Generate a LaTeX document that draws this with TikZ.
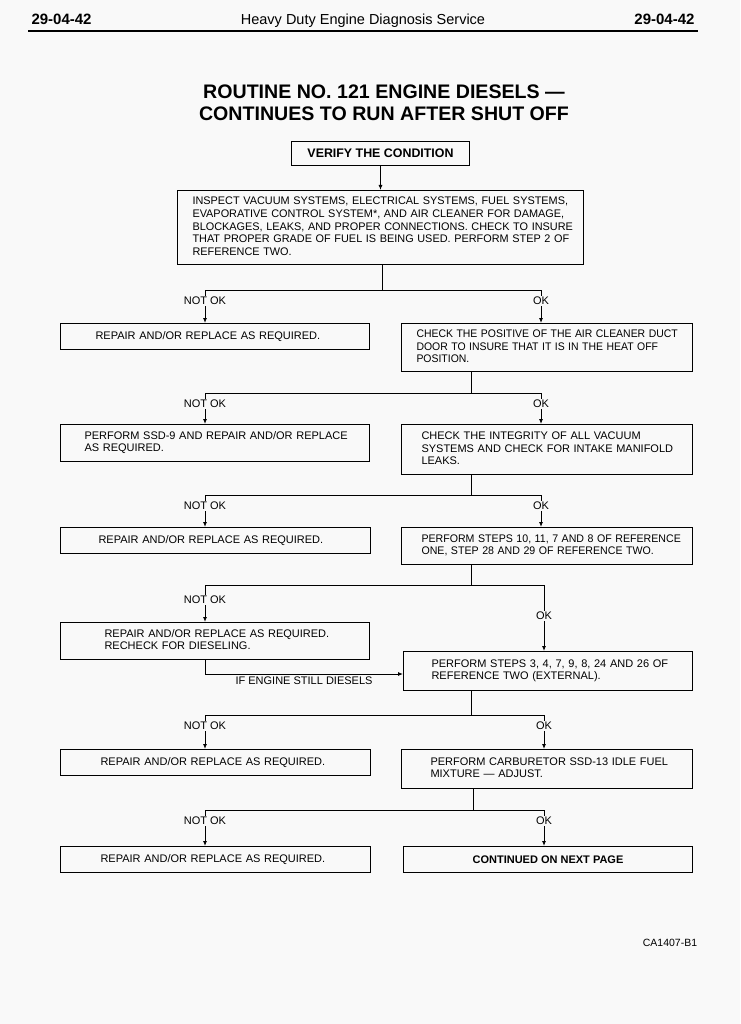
\documentclass[tikz,border=0pt]{standalone}
\usepackage{fontspec}
\usepackage{graphicx}
\setmainfont{Liberation Sans}
\usetikzlibrary{arrows.meta}

\definecolor{paper}{gray}{0.975}
% lines of a box, kept on one line each
\newcommand{\boxlines}[1]{\begin{tabular}{@{}l@{}}#1\end{tabular}}

\begin{document}
\begin{tikzpicture}[
    x=1pt, % one unit is one pixel of the page
    y=-1pt, % y counts downwards, as on the page
    every node/.style={font=\fontsize{11}{12.8}\selectfont},
    box/.style={draw, line width=1pt, anchor=north west, inner ysep=0pt},
    lbox/.style={box, align=left},
    cbox/.style={box, align=center},
    tag/.style={fill=paper, inner sep=1pt},
    link/.style={line width=0.9pt},
    arr/.style={link, -{Latex[length=5pt,width=4pt]}}
    ]

% --- Page ---
\fill[paper] (0,0) rectangle (740,1024);
\useasboundingbox (0,0) rectangle (740,1024);

% --- Header ---
\node[anchor=base west, font=\bfseries\fontsize{15}{15}\selectfont] (pageL) at (28,25) {29-04-42};
\node[anchor=base, font=\fontsize{14.5}{15}\selectfont] (head) at (363,25) {Heavy Duty Engine Diagnosis Service};
\node[anchor=base east, font=\bfseries\fontsize{15}{15}\selectfont] (pageR) at (698,25) {29-04-42};
\draw[line width=1.2pt] (pageL.base west |- 0,31) -- (pageR.base east |- 0,31);

% --- Title ---
\node[align=center, font=\bfseries\fontsize{19.6}{22}\selectfont] (title) at (384,103)
    {ROUTINE NO. 121 ENGINE DIESELS ---\\CONTINUES TO RUN AFTER SHUT OFF};

% --- Boxes ---
\node[cbox, minimum width=178, minimum height=24, font=\bfseries\fontsize{12.4}{13}\selectfont] (verify) at (291,141) {VERIFY THE CONDITION};
\node[lbox, minimum width=406, minimum height=74, inner xsep=15, text width=376] (insp) at (177,190)
    {\scalebox{0.99}[1]{\boxlines{INSPECT VACUUM SYSTEMS, ELECTRICAL SYSTEMS, FUEL SYSTEMS,\\
     EVAPORATIVE CONTROL SYSTEM*, AND AIR CLEANER FOR DAMAGE,\\
     BLOCKAGES, LEAKS, AND PROPER CONNECTIONS. CHECK TO INSURE\\
     THAT PROPER GRADE OF FUEL IS BEING USED. PERFORM STEP 2 OF\\
     REFERENCE TWO.}}};

% row 1
\node[lbox, minimum width=309, minimum height=26, inner xsep=35, text width=239] (ra) at (60,323) {REPAIR AND/OR REPLACE AS REQUIRED.};
\node[lbox, minimum width=291, minimum height=48, inner xsep=15, text width=261] (ca) at (401,323)
    {\scalebox{0.95}[1]{\boxlines{CHECK THE POSITIVE OF THE AIR CLEANER DUCT\\DOOR TO INSURE THAT IT IS IN THE HEAT OFF\\POSITION.}}};
% row 2
\node[lbox, minimum width=309, minimum height=37, inner xsep=24, text width=261] (rb) at (60,424)
    {\boxlines{PERFORM SSD-9 AND REPAIR AND/OR REPLACE\\AS REQUIRED.}};
\node[lbox, minimum width=291, minimum height=50, inner xsep=20, text width=251] (cb) at (401,424)
    {\boxlines{CHECK THE INTEGRITY OF ALL VACUUM\\SYSTEMS AND CHECK FOR INTAKE MANIFOLD\\LEAKS.}};
% row 3
\node[lbox, minimum width=310, minimum height=26, inner xsep=38, text width=234] (rc) at (60,527) {REPAIR AND/OR REPLACE AS REQUIRED.};
\node[lbox, minimum width=291, minimum height=37, inner xsep=20, text width=251] (cc) at (401,527)
    {\scalebox{0.965}[1]{\boxlines{PERFORM STEPS 10, 11, 7 AND 8 OF REFERENCE\\ONE, STEP 28 AND 29 OF REFERENCE TWO.}}};
% row 4
\node[lbox, minimum width=309, minimum height=37, inner xsep=44, text width=221] (rd) at (60,622)
    {\boxlines{REPAIR AND/OR REPLACE AS REQUIRED.\\RECHECK FOR DIESELING.}};
\node[lbox, minimum width=289, minimum height=39, inner xsep=28, text width=233] (cd) at (403,651)
    {\boxlines{PERFORM STEPS 3, 4, 7, 9, 8, 24 AND 26 OF\\REFERENCE TWO (EXTERNAL).}};
% row 5
\node[lbox, minimum width=310, minimum height=26, inner xsep=40, text width=230] (re) at (60,749) {REPAIR AND/OR REPLACE AS REQUIRED.};
\node[lbox, minimum width=291, minimum height=39, inner xsep=29, text width=233] (ce) at (401,749)
    {\boxlines{PERFORM CARBURETOR SSD-13 IDLE FUEL\\MIXTURE --- ADJUST.}};
% row 6
\node[lbox, minimum width=310, minimum height=26, inner xsep=40, text width=230] (rf) at (60,846) {REPAIR AND/OR REPLACE AS REQUIRED.};
\node[cbox, minimum width=289, minimum height=26, font=\bfseries\fontsize{11}{13}\selectfont] (cf) at (403,846) {CONTINUED ON NEXT PAGE};

% --- Connectors ---
\draw[arr] (verify) -- (verify |- insp.north);

% the plain NOT OK / OK splits
\foreach \src/\sx/\jy/\rx/\lft/\rgt in {insp/382/290/541/ra/ca, ca/471/393/541/rb/cb,
    cb/471/495/541/rc/cc, cd/471/715/544/re/ce, ce/473/810/544/rf/cf} {
    \coordinate (J-\src) at (\sx,\jy);
    \coordinate (JL-\src) at (205,\jy);
    \coordinate (JR-\src) at (\rx,\jy);
    \draw[link] (\src.south -| J-\src) -- (J-\src);
    \draw[link] (JL-\src) -- (JR-\src);
    \draw[arr] (JL-\src) -- (JL-\src |- \lft.north);
    \draw[arr] (JR-\src) -- (JR-\src |- \rgt.north);
    \path (JL-\src) ++(0,11) node[tag] (NL-\src) {NOT OK};
    \path (JR-\src) ++(0,11) node[tag] (NR-\src) {OK};
}

% the split below row 3, with the recheck loop
\coordinate (J-cc) at (471,585);
\coordinate (JL-cc) at (205,585);
\coordinate (JR-cc) at (544,585);
\draw[link] (cc.south -| J-cc) -- (J-cc);
\draw[link] (JL-cc) -- (JR-cc);
\draw[arr] (JL-cc) -- (JL-cc |- rd.north);
\draw[arr] (JR-cc) -- (JR-cc |- cd.north);
\path (JL-cc) ++(0,15) node[tag] (NL-cc) {NOT OK};
\path (JR-cc) ++(0,31) node[tag] (NR-cc) {OK};

\coordinate (K) at (205,674);
\draw[arr] (rd.south -| K) -- (K) -- (K -| cd.west);
\node (still) at (304,681) {IF ENGINE STILL DIESELS};

% --- Figure number ---
\node[font=\fontsize{10.5}{12}\selectfont] (fig) at (670,943) {CA1407-B1};

\end{tikzpicture}
\end{document}
